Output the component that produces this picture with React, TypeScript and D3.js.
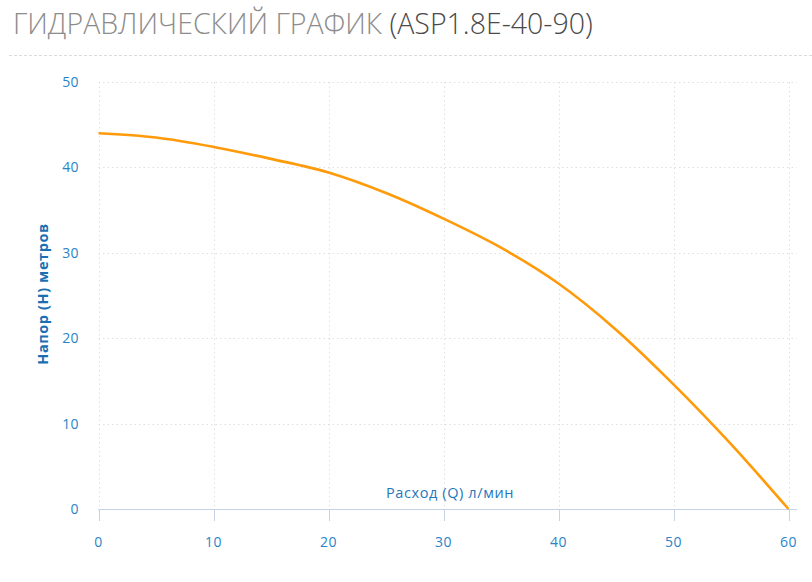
import React from "react";
import * as d3 from "d3";

const flowQ = [0, 5, 10, 15, 20, 25, 30, 35, 40, 45, 50, 55, 60];
const headH = [44, 43.5, 42.4, 41.0, 39.4, 37.0, 34.0, 30.6, 26.4, 21.0, 14.6, 7.6, 0];
const xTicks = [0, 10, 20, 30, 40, 50, 60];
const yTicks = [0, 10, 20, 30, 40, 50];
const titleMain = "ГИДРАВЛИЧЕСКИЙ ГРАФИК";
const titleModel = "(ASP1.8E-40-90)";
const xLabel = "Расход (Q) л/мин";
const yLabel = "Напор (Н) метров";

const W = 812;
const H = 582;

export default function App() {
  const x = d3.scaleLinear().domain([0, 60]).range([98.5, 788.5]);
  const y = d3.scaleLinear().domain([0, 50]).range([509, 82]);
  const pts: [number, number][] = flowQ.map((q, i) => [q, headH[i]]);
  const line = d3
    .line<[number, number]>()
    .x((d) => x(d[0]))
    .y((d) => y(d[1]))
    .curve(d3.curveCatmullRom.alpha(0.5));
  const font = "'Open Sans', 'Noto Sans', sans-serif";
  const tickColor = "#2a84c6";
  return (
    <svg
      width={W}
      height={H}
      style={{ position: "absolute", left: 0, top: 0, background: "#fff" }}
      fontFamily={font}
    >
      <text x={13} y={34} fontSize={28.5} fontWeight={300} fill="#8c8c8c">
        {titleMain}
        <tspan fill="#4a4a4a"> {titleModel}</tspan>
      </text>
      <line x1={9} x2={812} y1={55.5} y2={55.5} stroke="#dcdcdc" strokeDasharray="3,2" />
      {xTicks.map((t) => (
        <line
          key={"gx" + t}
          x1={Math.round(x(t)) + 0.5}
          x2={Math.round(x(t)) + 0.5}
          y1={y(50)}
          y2={y(0)}
          stroke="#e0e0e0"
          strokeDasharray="1.5,3"
        />
      ))}
      {yTicks
        .filter((t) => t > 0)
        .map((t) => (
          <line
            key={"gy" + t}
            x1={x(0)}
            x2={x(60) + 8}
            y1={Math.round(y(t)) + 0.5}
            y2={Math.round(y(t)) + 0.5}
            stroke="#e0e0e0"
            strokeDasharray="1.5,3"
          />
        ))}
      <line x1={98} x2={797} y1={509.5} y2={509.5} stroke="#c6d2e6" strokeWidth={1} />
      {xTicks.map((t) => (
        <g key={"xt" + t}>
          <line
            x1={Math.round(x(t)) + 0.5}
            x2={Math.round(x(t)) + 0.5}
            y1={509}
            y2={521}
            stroke="#c6d2e6"
          />
          <text
            x={x(t)}
            y={547}
            textAnchor="middle"
            fontSize={14}
            letterSpacing={0.4}
            fill={tickColor}
          >
            {t}
          </text>
        </g>
      ))}
      {yTicks.map((t) => (
        <text
          key={"yt" + t}
          x={79}
          y={y(t) + 5}
          textAnchor="end"
          fontSize={14}
          letterSpacing={0.4}
          fill={tickColor}
        >
          {t}
        </text>
      ))}
      <text x={450} y={498} textAnchor="middle" fontSize={14.5} letterSpacing={0.6} fill="#1f78bd">
        {xLabel}
      </text>
      <text
        transform={`translate(48, 294) rotate(-90)`}
        textAnchor="middle"
        fontSize={14.5}
        fontWeight={700}
        letterSpacing={0.6}
        fill="#1a6fb3"
      >
        {yLabel}
      </text>
      <path d={line(pts) || ""} fill="none" stroke="#ff9a0a" strokeWidth={2.6} />
    </svg>
  );
}
